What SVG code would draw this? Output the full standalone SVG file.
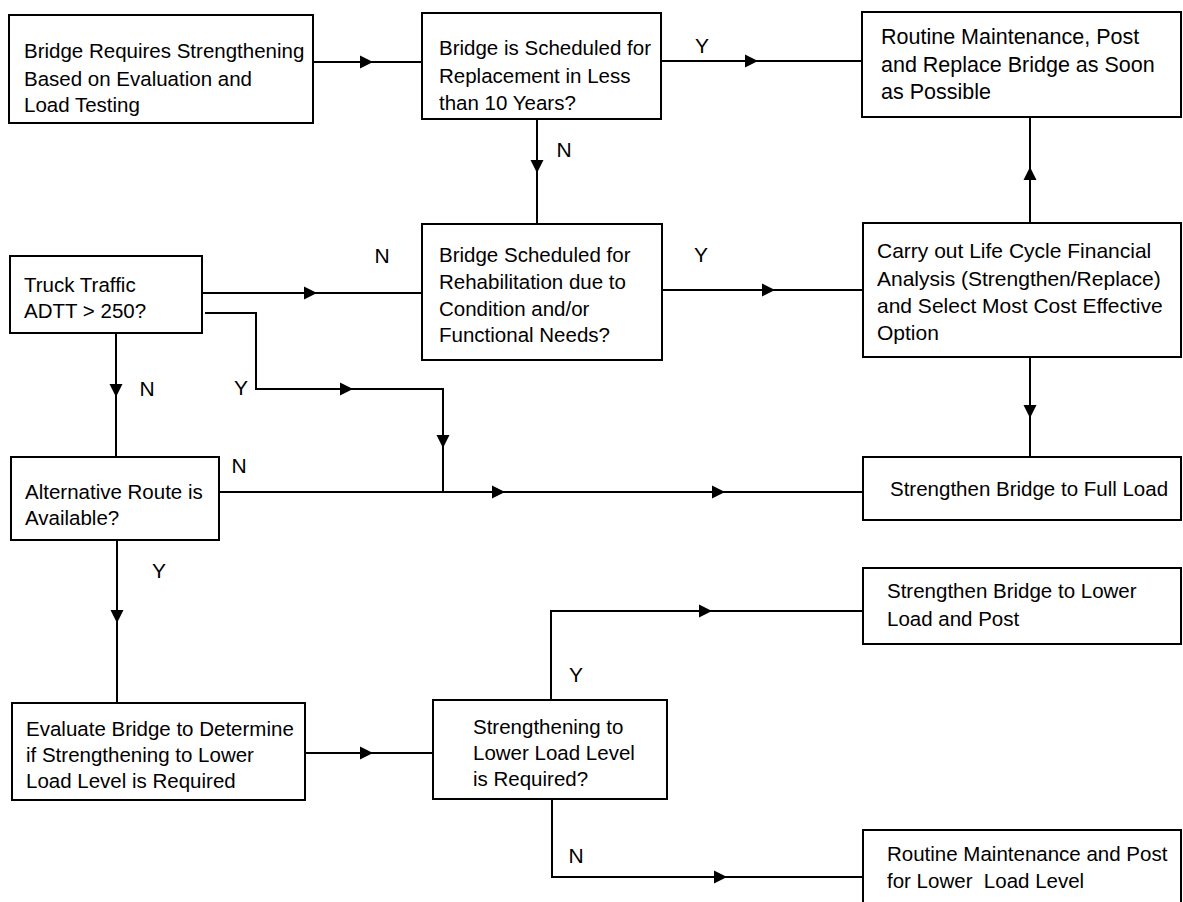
<svg xmlns="http://www.w3.org/2000/svg" xmlns:xlink="http://www.w3.org/1999/xlink" width="1183" height="902" viewBox="0 0 1183 902">
<style>
.box{fill:#fff;stroke:#000;stroke-width:2}
.t{font-family:"Liberation Sans",Arial,sans-serif;font-size:20.5px;fill:#000}
.lbl{font-family:"Liberation Sans",Arial,sans-serif;font-size:21px;fill:#000;text-anchor:middle}
.ln{fill:none;stroke:#000;stroke-width:2}
.pre{white-space:pre}
</style>
<defs>
<polygon id="ar" points="0,0 -13,-6.5 -13,6.5" fill="#000"/>
</defs>
<rect width="1183" height="902" fill="#fff"/>
<g id="connectors">
<path class="ln" d="M313,62 H422"/><use xlink:href="#ar" transform="translate(373,62)"/>
<path class="ln" d="M661,61 H862"/><use xlink:href="#ar" transform="translate(758,61)"/>
<path class="ln" d="M537,119 V224"/><use xlink:href="#ar" transform="translate(537,173) rotate(90)"/>
<path class="ln" d="M662,290 H863"/><use xlink:href="#ar" transform="translate(775,290)"/>
<path class="ln" d="M1030,223 V117"/><use xlink:href="#ar" transform="translate(1030,167) rotate(-90)"/>
<path class="ln" d="M1030,357 V457"/><use xlink:href="#ar" transform="translate(1030,418) rotate(90)"/>
<path class="ln" d="M202,293 H422"/><use xlink:href="#ar" transform="translate(317,293)"/>
<path class="ln" d="M205,313 H256 V389 H443 V492"/><use xlink:href="#ar" transform="translate(353,389)"/><use xlink:href="#ar" transform="translate(443,448) rotate(90)"/>
<path class="ln" d="M116,333 V457"/><use xlink:href="#ar" transform="translate(116,397) rotate(90)"/>
<path class="ln" d="M219,492 H863"/><use xlink:href="#ar" transform="translate(505,492)"/><use xlink:href="#ar" transform="translate(725,492)"/>
<path class="ln" d="M117,540 V703"/><use xlink:href="#ar" transform="translate(117,623) rotate(90)"/>
<path class="ln" d="M305,753 H433"/><use xlink:href="#ar" transform="translate(373,753)"/>
<path class="ln" d="M551,700 V611 H863"/><use xlink:href="#ar" transform="translate(712,611)"/>
<path class="ln" d="M552,799 V877 H863"/><use xlink:href="#ar" transform="translate(727,877)"/>
<text class="lbl" x="702" y="53">Y</text>
<text class="lbl" x="564" y="157">N</text>
<text class="lbl" x="701" y="262">Y</text>
<text class="lbl" x="382" y="263">N</text>
<text class="lbl" x="241" y="395">Y</text>
<text class="lbl" x="147" y="396">N</text>
<text class="lbl" x="239" y="473">N</text>
<text class="lbl" x="159" y="578">Y</text>
<text class="lbl" x="576" y="682">Y</text>
<text class="lbl" x="576" y="863">N</text>
</g>
<g id="n1"><rect class="box" x="9" y="15" width="304" height="108"/>
<text class="t"><tspan x="24" y="58">Bridge Requires Strengthening</tspan><tspan x="24" y="86">Based on Evaluation and</tspan><tspan x="24" y="112">Load Testing</tspan></text></g>
<g id="n2"><rect class="box" x="422" y="13" width="239" height="106"/>
<text class="t"><tspan x="439" y="55">Bridge is Scheduled for</tspan><tspan x="439" y="83">Replacement in Less</tspan><tspan x="439" y="110">than 10 Years?</tspan></text></g>
<g id="n3"><rect class="box" x="862" y="12" width="319" height="105"/>
<text class="t" style="font-size:21.5px"><tspan x="881" y="44">Routine Maintenance, Post</tspan><tspan x="881" y="72">and Replace Bridge as Soon</tspan><tspan x="881" y="99">as Possible</tspan></text></g>
<g id="n4"><rect class="box" x="863" y="223" width="318" height="134"/>
<text class="t" style="font-size:21px"><tspan x="877" y="258">Carry out Life Cycle Financial</tspan><tspan x="877" y="286">Analysis (Strengthen/Replace)</tspan><tspan x="877" y="313">and Select Most Cost Effective</tspan><tspan x="877" y="340">Option</tspan></text></g>
<g id="n5"><rect class="box" x="422" y="224" width="240" height="136"/>
<text class="t"><tspan x="439" y="262">Bridge Scheduled for</tspan><tspan x="439" y="289">Rehabilitation due to</tspan><tspan x="439" y="316">Condition and/or</tspan><tspan x="439" y="342">Functional Needs?</tspan></text></g>
<g id="n6"><rect class="box" x="863" y="457" width="318" height="63"/>
<text class="t" x="890" y="496">Strengthen Bridge to Full Load</text></g>
<g id="n7"><rect class="box" x="10" y="256" width="192" height="77"/>
<text class="t"><tspan x="24" y="292">Truck Traffic</tspan><tspan x="24" y="318">ADTT &gt; 250?</tspan></text></g>
<g id="n8"><rect class="box" x="11" y="457" width="208" height="83"/>
<text class="t"><tspan x="25" y="499">Alternative Route is</tspan><tspan x="25" y="525">Available?</tspan></text></g>
<g id="n9"><rect class="box" x="12" y="703" width="293" height="97"/>
<text class="t"><tspan x="26" y="736">Evaluate Bridge to Determine</tspan><tspan x="26" y="762">if Strengthening to Lower</tspan><tspan x="26" y="788">Load Level is Required</tspan></text></g>
<g id="n10"><rect class="box" x="433" y="700" width="234" height="99"/>
<text class="t"><tspan x="473" y="734">Strengthening to</tspan><tspan x="473" y="760">Lower Load Level</tspan><tspan x="473" y="786">is Required?</tspan></text></g>
<g id="n11"><rect class="box" x="863" y="568" width="318" height="76"/>
<text class="t"><tspan x="887" y="598">Strengthen Bridge to Lower</tspan><tspan x="887" y="626">Load and Post</tspan></text></g>
<g id="n12"><rect class="box" x="863" y="830" width="318" height="80"/>
<text class="t pre"><tspan x="887" y="861">Routine Maintenance and Post</tspan><tspan x="887" y="888">for Lower  Load Level</tspan></text></g>
</svg>
